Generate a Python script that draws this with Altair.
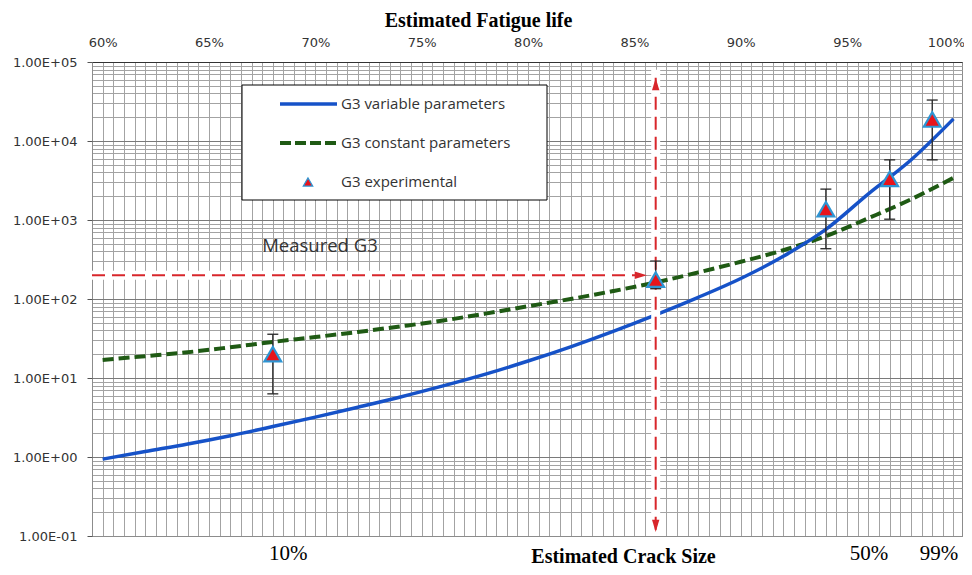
import altair as alt
import pandas as pd

# ---------------- data ----------------
pct_points = [60, 62, 64, 66, 68, 70, 72, 74, 76, 78, 80,
              82, 84, 86, 88, 90, 92, 94, 96, 98, 100]
g3_variable = [0.94, 1.175, 1.46, 1.86, 2.43, 3.2, 4.27, 5.75, 7.94, 11.2, 16.4,
               24.8, 38.9, 63, 105, 182, 347, 759, 2140, 5750, 19050]
g3_constant = [16.9, 18.9, 21.2, 24.5, 28.6, 33, 38.3, 45, 53.4, 65.3, 81,
               100, 126, 162, 217, 296, 414, 625, 1054, 1824, 3420]

exp_pct = [68, 86, 94, 97, 99]
exp_g3 = [20, 176, 1370, 3310, 18700]
exp_low = [6.3, 135, 433, 1024, 5770]
exp_high = [35.8, 302, 2460, 5770, 33000]

measured_g3 = 200
measured_pct = 86

life_ticks = [60, 65, 70, 75, 80, 85, 90, 95, 100]
crack_labels = ["10%", "50%", "99%"]
crack_pct = [68.7, 96.0, 99.3]

legend_labels = ["G3 variable parameters", "G3 constant parameters", "G3 experimental"]

# ---------------- styles ----------------
BLUE = "#1652c8"
GREEN = "#1f5a14"
RED = "#d8262b"
TRI_FILL = "#e8141b"
TRI_STROKE = "#2e95d3"
GRID = "#a3a3a3"

x_min, x_max = 59.5, 100.4
xscale = alt.Scale(domain=[x_min, x_max], nice=False, zero=False)
yscale = alt.Scale(type="log", domain=[0.1, 1e5], nice=False)

x_grid_vals = [x_min + 0.5 * i for i in range(82)]
y_grid_vals = [m * 10.0 ** k for k in range(-1, 5) for m in range(1, 10)] + [1e5]
decades = [0.1, 1, 10, 100, 1000, 10000, 100000]

grid_x_axis = alt.Axis(orient="bottom", values=x_grid_vals, labels=False, ticks=False,
                       domain=True, domainColor="#8c8c8c", grid=True, gridColor=GRID,
                       gridWidth=1, title=None)
grid_y_axis = alt.Axis(orient="left", values=y_grid_vals, labels=False, ticks=False,
                       domain=True, domainColor="#8c8c8c", grid=True, gridColor=GRID,
                       gridWidth=1, title=None)
last_tick = "datum.value == %d" % life_ticks[-1]
top_axis = alt.Axis(orient="top", values=life_ticks, labelExpr="datum.value + '%'",
                    grid=False, ticks=False, tickSize=0, domain=True, domainColor="#333333",
                    labelFont="DejaVu Sans", labelFontSize=13, labelColor="#333333",
                    labelPadding=13, labelFlush=False, labelOverlap=False,
                    labelAlign={"condition": {"test": last_tick, "value": "right"}, "value": "center"},
                    labelOffset={"condition": {"test": last_tick, "value": 11}, "value": 0},
                    title="Estimated Fatigue life", titleFont="Liberation Serif",
                    titleFontSize=20, titleFontWeight="bold", titleColor="#000000",
                    titleX=386, titleY=-42, titleBaseline="middle", titleAlign="center")
left_axis = alt.Axis(orient="left", values=decades,
                     labelExpr="'1.00E' + (datum.value >= 1 ? '+' : '-') + '0' + abs(round(log(datum.value) / LN10))",
                     grid=True, gridColor="#7a7a7a", gridWidth=1, ticks=True, tickSize=5,
                     tickColor="#555555", domain=False, labelFont="DejaVu Sans",
                     labelFontSize=13, labelColor="#333333", labelPadding=10,
                     labelFlush=False, labelOverlap=False, title=None)
crack_expr = "[" + ",".join("'%s'" % s for s in crack_labels) + "][indexof([" + \
    ",".join(str(v) for v in crack_pct) + "], datum.value)]"
bottom_axis = alt.Axis(orient="bottom", values=crack_pct, labelExpr=crack_expr,
                       grid=False, ticks=False, tickSize=0, domain=False,
                       labelFont="Liberation Serif", labelFontSize=21, labelColor="#000000",
                       labelPadding=6, labelFlush=False, labelOverlap=False,
                       title="Estimated Crack Size", titleFont="Liberation Serif",
                       titleFontSize=20, titleFontWeight="bold", titleColor="#000000",
                       titleX=531, titleY=30, titleBaseline="bottom", titleAlign="center")

curve_df = pd.DataFrame({"pct": pct_points, "variable": g3_variable, "constant": g3_constant})
exp_df = pd.DataFrame({"pct": exp_pct, "g3": exp_g3, "low": exp_low, "high": exp_high})

green_line = alt.Chart(curve_df).mark_line(
    color=GREEN, strokeWidth=4, strokeDash=[11, 5], interpolate="monotone"
).encode(
    x=alt.X("pct:Q", scale=xscale, axis=grid_x_axis),
    y=alt.Y("constant:Q", scale=yscale, axis=grid_y_axis),
)
blue_line = alt.Chart(curve_df).mark_line(
    color=BLUE, strokeWidth=3.5, interpolate="monotone"
).encode(
    x=alt.X("pct:Q", scale=xscale, axis=top_axis),
    y=alt.Y("variable:Q", scale=yscale, axis=left_axis),
)

# measured-G3 guide lines (horizontal to the curve crossing, vertical through it)
h_df = pd.DataFrame({"x0": [x_min], "x1": [85.3], "y": [measured_g3]})
v_df = pd.DataFrame({"x": [measured_pct], "y0": [0.12], "y1": [6.3e4]})
vh_df = pd.DataFrame({"x": [measured_pct], "y0": [0.1], "y1": [8e4]})

h_halo = alt.Chart(h_df).mark_rule(color="white", strokeWidth=9).encode(
    x=alt.X("x0:Q", scale=xscale, axis=None), x2="x1:Q",
    y=alt.Y("y:Q", scale=yscale, axis=None))
v_halo = alt.Chart(vh_df).mark_rule(color="white", strokeWidth=9).encode(
    x=alt.X("x:Q", scale=xscale, axis=None),
    y=alt.Y("y0:Q", scale=yscale, axis=None), y2="y1:Q")
h_rule = alt.Chart(h_df).mark_rule(color=RED, strokeWidth=2, strokeDash=[13, 7]).encode(
    x=alt.X("x0:Q", scale=xscale, axis=None), x2="x1:Q",
    y=alt.Y("y:Q", scale=yscale, axis=None))
v_rule = alt.Chart(v_df).mark_rule(color=RED, strokeWidth=2, strokeDash=[13, 7]).encode(
    x=alt.X("x:Q", scale=xscale, axis=None),
    y=alt.Y("y0:Q", scale=yscale, axis=None), y2="y1:Q")

head_r = alt.Chart(pd.DataFrame({"x": [85.3], "y": [measured_g3]})).mark_point(
    shape="M1,0L-1,-0.6L-1,0.6Z", filled=True, color=RED, size=150, opacity=1).encode(
    x=alt.X("x:Q", scale=xscale, axis=None), y=alt.Y("y:Q", scale=yscale, axis=None))
head_u = alt.Chart(pd.DataFrame({"x": [measured_pct], "y": [5.25e4]})).mark_point(
    shape="M0,-1L0.6,1L-0.6,1Z", filled=True, color=RED, size=150, opacity=1).encode(
    x=alt.X("x:Q", scale=xscale, axis=None), y=alt.Y("y:Q", scale=yscale, axis=None))
head_d = alt.Chart(pd.DataFrame({"x": [measured_pct], "y": [0.134]})).mark_point(
    shape="M0,1L-0.6,-1L0.6,-1Z", filled=True, color=RED, size=150, opacity=1).encode(
    x=alt.X("x:Q", scale=xscale, axis=None), y=alt.Y("y:Q", scale=yscale, axis=None))

err = alt.Chart(exp_df).mark_rule(color="#262626", strokeWidth=1.3).encode(
    x=alt.X("pct:Q", scale=xscale, axis=None),
    y=alt.Y("low:Q", scale=yscale, axis=None), y2="high:Q")
cap_hi = alt.Chart(exp_df).mark_tick(orient="horizontal", size=11, thickness=1.3,
                                     color="#262626", opacity=1).encode(
    x=alt.X("pct:Q", scale=xscale, axis=None), y=alt.Y("high:Q", scale=yscale, axis=None))
cap_lo = alt.Chart(exp_df).mark_tick(orient="horizontal", size=11, thickness=1.3,
                                     color="#262626", opacity=1).encode(
    x=alt.X("pct:Q", scale=xscale, axis=None), y=alt.Y("low:Q", scale=yscale, axis=None))
tri = alt.Chart(exp_df).mark_point(shape="triangle-up", filled=True, fill=TRI_FILL,
                                   stroke=TRI_STROKE, strokeWidth=2.2, size=280, opacity=1).encode(
    x=alt.X("pct:Q", scale=xscale, axis=bottom_axis),
    y=alt.Y("g3:Q", scale=yscale, axis=None))

measured_txt = alt.Chart(pd.DataFrame({"x": [67.5], "y": [470], "t": ["Measured G3"]})).mark_text(
    align="left", baseline="middle", font="Open Sans", fontSize=18.5, color="#333333").encode(
    x=alt.X("x:Q", scale=xscale, axis=None), y=alt.Y("y:Q", scale=yscale, axis=None), text="t:N")

# ---------------- legend (boxed, top-left) ----------------
one = pd.DataFrame({"k": [0]})
leg_box = alt.Chart(one).mark_rect(fill="white", stroke="#000000", strokeWidth=1).encode(
    x=alt.value(150), x2=alt.value(455), y=alt.value(23), y2=alt.value(138))
leg_blue = alt.Chart(one).mark_rule(color=BLUE, strokeWidth=3.5).encode(
    x=alt.value(188), x2=alt.value(245), y=alt.value(42))
leg_green = alt.Chart(one).mark_rule(color=GREEN, strokeWidth=4, strokeDash=[11, 4]).encode(
    x=alt.value(188), x2=alt.value(245), y=alt.value(81))
leg_tri = alt.Chart(one).mark_point(shape="triangle-up", filled=True, fill=TRI_FILL,
                                    stroke=TRI_STROKE, strokeWidth=1.2, size=90, opacity=1).encode(
    x=alt.value(216), y=alt.value(120))
leg_texts = []
for i, lab in enumerate(legend_labels):
    leg_texts.append(
        alt.Chart(pd.DataFrame({"t": [lab]})).mark_text(
            align="left", baseline="middle", font="Open Sans", fontSize=15, color="#333333"
        ).encode(x=alt.value(249), y=alt.value(42 + 39 * i), text="t:N")
    )

chart = alt.layer(
    green_line, blue_line, h_halo, v_halo, h_rule, v_rule, head_r, head_u, head_d,
    err, cap_hi, cap_lo, tri, measured_txt,
    leg_box, leg_blue, leg_green, leg_tri, *leg_texts,
).resolve_axis(
    x="independent", y="independent"
).properties(
    width=870, height=474,
    autosize=alt.AutoSizeParams(type="none"),
    padding={"left": 84, "top": 54, "right": 2, "bottom": 31},
    background="white",
).configure_view(stroke="#8c8c8c", strokeWidth=1)

chart.save("out.html", embed_options={"renderer": "svg", "actions": False})
